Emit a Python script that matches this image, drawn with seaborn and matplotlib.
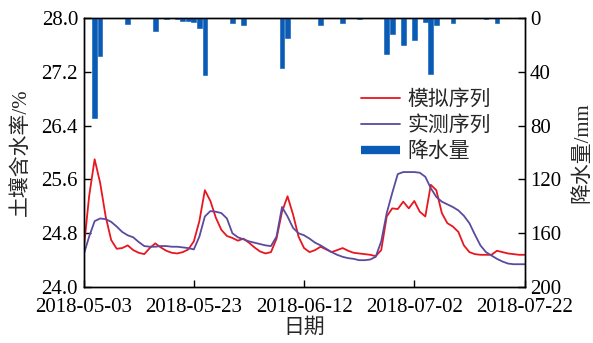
import matplotlib.dates as mdates
import matplotlib.pyplot as plt
import pandas as pd
import seaborn as sns
from matplotlib.lines import Line2D

sns.set_style("ticks")
plt.rcParams['font.family'] = ['Liberation Serif', 'Noto Sans CJK SC']
plt.rcParams['font.size'] = 15
plt.rcParams['axes.unicode_minus'] = False

START = '2018-05-03'
END = '2018-07-22'

# daily soil moisture (%), simulated and measured
simulated = [
    24.55, 25.35, 25.90, 25.55, 25.05, 24.70, 24.57, 24.58, 24.62, 24.55,
    24.51, 24.49, 24.58, 24.65, 24.59, 24.54, 24.51, 24.50, 24.52, 24.56,
    24.68, 24.98, 25.44, 25.28, 25.03, 24.85, 24.76, 24.73, 24.69, 24.72,
    24.66, 24.59, 24.53, 24.50, 24.52, 24.72, 25.12, 25.35, 25.08, 24.75,
    24.58, 24.52, 24.55, 24.60, 24.56, 24.52, 24.55, 24.58, 24.54, 24.51,
    24.50, 24.49, 24.48, 24.46, 24.55, 25.05, 25.17, 25.16, 25.27, 25.17,
    25.28, 25.12, 25.05, 25.52, 25.44, 25.10, 24.95, 24.90, 24.82, 24.62,
    24.52, 24.49, 24.48, 24.48, 24.48, 24.54, 24.52, 24.50, 24.49, 24.48,
    24.48,
]
measured = [
    24.48, 24.75, 24.98, 25.02, 25.01, 24.97, 24.90, 24.82, 24.77, 24.74,
    24.67, 24.61, 24.60, 24.60, 24.61, 24.61, 24.60, 24.60, 24.59, 24.58,
    24.56, 24.75, 25.05, 25.13, 25.12, 25.10, 25.02, 24.80, 24.74, 24.71,
    24.68, 24.66, 24.64, 24.62, 24.61, 24.75, 25.19, 25.05, 24.88, 24.80,
    24.77, 24.72, 24.66, 24.62, 24.57, 24.52, 24.48, 24.45, 24.43, 24.42,
    24.40, 24.40, 24.41, 24.45, 24.68, 25.10, 25.40, 25.68, 25.71, 25.71,
    25.71, 25.70, 25.64, 25.47, 25.34, 25.27, 25.23, 25.19, 25.14, 25.06,
    24.95, 24.78, 24.62, 24.52, 24.47, 24.42, 24.38, 24.35, 24.34, 24.34,
    24.34,
]

# rain events: day offset from START, amount (mm)
rain_day = [2, 3, 8, 13, 15, 17, 18, 19, 20, 21, 22, 27, 29, 36, 37, 43, 47, 50,
            55, 56, 58, 60, 62, 63, 64, 67, 73, 75]
rain_mm = [74.6, 28.5, 4.7, 9.4, 1.0, 1.0, 2.0, 2.5, 3.2, 7.2, 42.4, 4.0, 5.4, 37.2,
           15.1, 5.0, 4.0, 1.0, 27.0, 12.0, 20.0, 16.6, 2.8, 41.6, 5.2, 4.0, 1.0, 4.0]

dates = pd.date_range(START, periods=len(simulated), freq='D')
df = pd.DataFrame({'date': dates, 'sim': simulated, 'obs': measured})
rain_dates = pd.Timestamp(START) + pd.to_timedelta(rain_day, unit='D')

red = '#e8161e'
purple = '#5b4a9e'
blue = '#0a5bb5'

fig = plt.figure(figsize=(5.93, 3.43), dpi=100)
ax = fig.add_axes([0.141, 0.163, 0.7435, 0.7845])

sns.lineplot(data=df, x='date', y='sim', color=red, linewidth=1.3, ax=ax)
sns.lineplot(data=df, x='date', y='obs', color=purple, linewidth=1.3, ax=ax)

ax2 = ax.twinx()
ax2.bar(rain_dates, rain_mm, width=0.85, color=blue, edgecolor=blue, linewidth=0.4)
ax2.set_ylim(200, 0)
ax2.set_yticks([0, 40, 80, 120, 160, 200])
ax2.set_ylabel('降水量/mm', labelpad=8)

ax.set_ylim(24.0, 28.0)
ax.set_yticks([24.0, 24.8, 25.6, 26.4, 27.2, 28.0])
ax.yaxis.set_major_formatter(plt.FormatStrFormatter('%.1f'))
ax.set_xlim(pd.Timestamp(START), pd.Timestamp(END))
ax.set_xticks(pd.date_range(START, END, freq='20D'))
ax.xaxis.set_major_formatter(mdates.DateFormatter('%Y-%m-%d'))
ax.set_xlabel('日期', labelpad=1)
ax.set_ylabel('土壤含水率/%', labelpad=8)

for a in (ax, ax2):
    a.tick_params(direction='in', length=5, width=1, pad=4, colors='black')
    for s in a.spines.values():
        s.set_linewidth(1)
        s.set_color('black')
ax.tick_params(axis='x', pad=8)

handles = [
    Line2D([], [], color=red, lw=1.3),
    Line2D([], [], color=purple, lw=1.3),
    Line2D([], [], color=blue, lw=6, solid_capstyle='butt'),
]
ax.legend(handles, ['模拟序列', '实测序列', '降水量'], loc='upper left',
          bbox_to_anchor=(0.605, 0.77), frameon=False, borderpad=0,
          handlelength=1.9, handletextpad=0.35, labelspacing=0.3, fontsize=15)

fig.savefig('out.png', dpi=100)
